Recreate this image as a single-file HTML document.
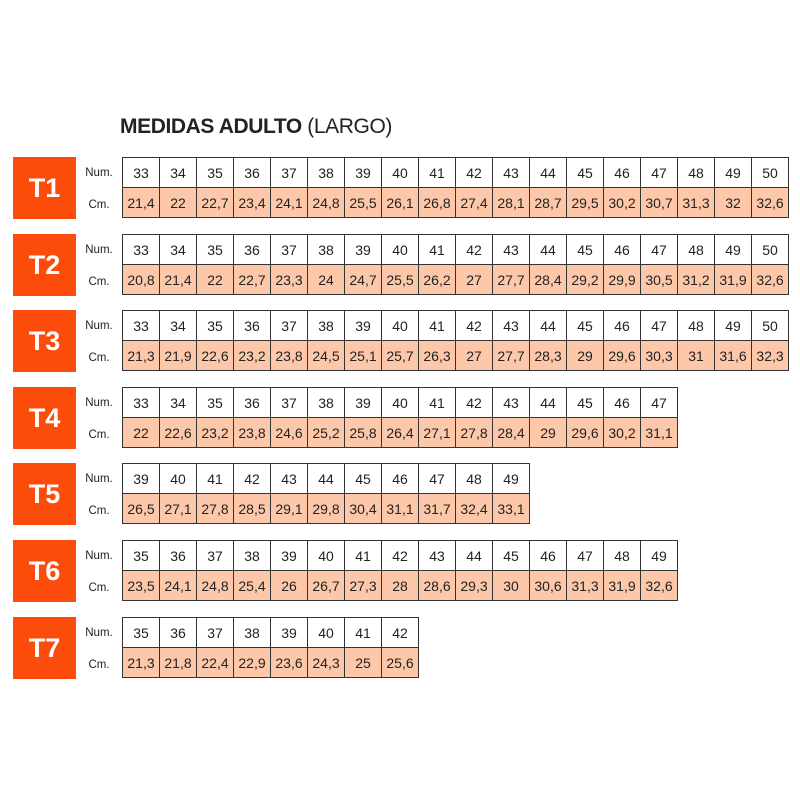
<!DOCTYPE html>
<html><head><meta charset="utf-8"><style>
body{margin:0;width:800px;height:800px;background:#fff;font-family:"Liberation Sans",sans-serif;position:relative;overflow:hidden}
.title{position:absolute;left:120px;top:115px;font-size:21px;color:#222;letter-spacing:-0.4px}
.title b{font-weight:bold}
.box{position:absolute;left:13px;width:63px;height:62px;background:#fc4c0c;color:#fff;font-weight:bold;font-size:27px;display:flex;align-items:center;justify-content:center}
.lab{position:absolute;left:78px;width:42px;text-align:center;font-size:11.5px;color:#222}
table{position:absolute;left:122px;border-collapse:collapse;table-layout:fixed}
td{border:1px solid #333;height:29px;padding:0;text-align:center;font-size:14px;color:#222;width:36px}
tr.c td{background:#fdc8a9}
</style></head><body>
<div class="title"><b>MEDIDAS ADULTO</b> (LARGO)</div>
<div id="c"></div>
<script>
var d=[
[157,"T1",[33,34,35,36,37,38,39,40,41,42,43,44,45,46,47,48,49,50],["21,4","22","22,7","23,4","24,1","24,8","25,5","26,1","26,8","27,4","28,1","28,7","29,5","30,2","30,7","31,3","32","32,6"]],
[234,"T2",[33,34,35,36,37,38,39,40,41,42,43,44,45,46,47,48,49,50],["20,8","21,4","22","22,7","23,3","24","24,7","25,5","26,2","27","27,7","28,4","29,2","29,9","30,5","31,2","31,9","32,6"]],
[310,"T3",[33,34,35,36,37,38,39,40,41,42,43,44,45,46,47,48,49,50],["21,3","21,9","22,6","23,2","23,8","24,5","25,1","25,7","26,3","27","27,7","28,3","29","29,6","30,3","31","31,6","32,3"]],
[387,"T4",[33,34,35,36,37,38,39,40,41,42,43,44,45,46,47],["22","22,6","23,2","23,8","24,6","25,2","25,8","26,4","27,1","27,8","28,4","29","29,6","30,2","31,1"]],
[463,"T5",[39,40,41,42,43,44,45,46,47,48,49],["26,5","27,1","27,8","28,5","29,1","29,8","30,4","31,1","31,7","32,4","33,1"]],
[540,"T6",[35,36,37,38,39,40,41,42,43,44,45,46,47,48,49],["23,5","24,1","24,8","25,4","26","26,7","27,3","28","28,6","29,3","30","30,6","31,3","31,9","32,6"]],
[617,"T7",[35,36,37,38,39,40,41,42],["21,3","21,8","22,4","22,9","23,6","24,3","25","25,6"]]];
var h="";
d.forEach(function(r){var y=r[0];
h+='<div class="box" style="top:'+y+'px">'+r[1]+'</div>';
h+='<div class="lab" style="top:'+(y+10)+'px">Num.</div><div class="lab" style="top:'+(y+42)+'px">Cm.</div>';
h+='<table style="top:'+y+'px;width:'+(r[2].length*37.06).toFixed(1)+'px"><tr>'+r[2].map(function(v){return'<td>'+v+'</td>'}).join('')+'</tr><tr class="c">'+r[3].map(function(v){return'<td>'+v+'</td>'}).join('')+'</tr></table>';});
document.getElementById("c").innerHTML=h;
</script>
</body></html>
